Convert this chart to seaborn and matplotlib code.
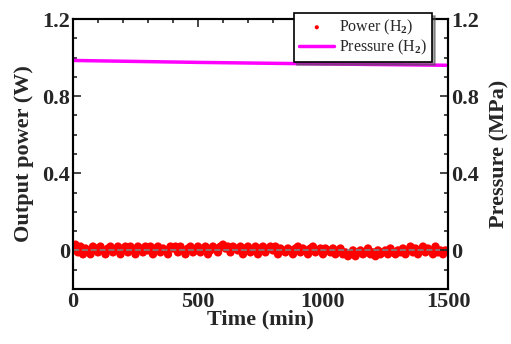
import numpy as np
import pandas as pd
import matplotlib
matplotlib.use("Agg")
import matplotlib.pyplot as plt
import seaborn as sns
from matplotlib.ticker import MultipleLocator

sns.set_style("white")
plt.rcParams['font.family'] = ['Liberation Serif', 'DejaVu Serif']
plt.rcParams['font.weight'] = 'bold'
plt.rcParams['mathtext.fontset'] = 'custom'
plt.rcParams['mathtext.rm'] = 'Liberation Serif'

time_power = list(range(0, 1500, 10))
power = [
    0.00, 0.03, -0.01, 0.02, -0.02, 0.01, 0.00, -0.02, 0.02, 0.01,
    -0.01, 0.02, 0.00, -0.02, 0.01, 0.02, -0.01, 0.00, 0.02, -0.02,
    0.01, 0.02, -0.01, 0.02, 0.00, -0.02, 0.02, 0.01, -0.01, 0.02,
    0.00, 0.02, -0.02, 0.01, 0.02, -0.01, 0.01, 0.00, -0.02, 0.02,
    0.01, 0.02, -0.01, 0.02, 0.00, -0.02, 0.01, 0.02, -0.01, 0.00,
    0.02, -0.01, 0.01, 0.02, -0.02, 0.00, 0.02, 0.01, -0.01, 0.02,
    0.03, 0.01, 0.02, -0.01, 0.02, 0.01, 0.00, 0.02, -0.02, 0.01,
    0.02, -0.01, 0.00, 0.02, -0.02, 0.01, 0.02, -0.01, 0.01, 0.02,
    0.00, 0.02, -0.02, 0.01, 0.00, -0.01, 0.01, 0.00, -0.02, 0.01,
    0.02, -0.01, 0.01, 0.00, -0.02, 0.01, 0.02, -0.01, 0.00, 0.01,
    -0.02, 0.01, 0.00, -0.01, 0.01, -0.02, 0.00, 0.01, -0.02, -0.01,
    -0.03, -0.02, 0.00, -0.03, -0.01, 0.00, -0.02, -0.01, 0.01, -0.02,
    -0.01, -0.03, 0.00, -0.02, -0.01, 0.00, -0.02, 0.01, -0.01, -0.02,
    0.00, -0.01, 0.01, -0.02, 0.00, 0.02, -0.01, 0.01, -0.02, 0.00,
    0.02, -0.01, 0.01, 0.00, -0.02, 0.02, -0.01, 0.00, -0.02, 0.00,
]
time_pressure = [0, 500, 1000, 1500]
pressure = [0.985, 0.975, 0.967, 0.960]

df_p = pd.DataFrame({"t": time_power, "p": power})
df_q = pd.DataFrame({"t": time_pressure, "q": pressure})

fig = plt.figure(figsize=(5.11, 3.44), dpi=100)
ax = fig.add_axes([73/511, 1 - 289/344, (448-73)/511, (289-19)/344])
ax2 = ax.twinx()

ax.axhline(0, color='gray', lw=1.2, ls='--', zorder=4)
sns.scatterplot(data=df_p, x="t", y="p", ax=ax, color='red', s=36,
                edgecolor='none', zorder=3, label='Power (H$_2$)', legend=False)
sns.lineplot(data=df_q, x="t", y="q", ax=ax2, color='magenta', lw=2.5,
             label='Pressure (H$_2$)', legend=False)

for a in (ax, ax2):
    a.set_xlim(0, 1500)
    a.set_ylim(-0.2, 1.2)
    for s in a.spines.values():
        s.set_linewidth(1.5)
        s.set_color('black')

ax.set_yticks([0, 0.4, 0.8, 1.2])
ax.set_yticklabels(['0', '0.4', '0.8', '1.2'])
ax2.set_yticks([0, 0.4, 0.8, 1.2])
ax2.set_yticklabels(['0', '0.4', '0.8', '1.2'])
ax.set_xticks([0, 500, 1000, 1500])
ax.xaxis.set_minor_locator(MultipleLocator(100))
ax.yaxis.set_minor_locator(MultipleLocator(0.1))
ax2.yaxis.set_minor_locator(MultipleLocator(0.1))

ax.tick_params(axis='both', which='both', direction='in', top=True, labelsize=16, width=1.2, pad=2)
ax.tick_params(axis='y', which='both', right=False)
ax.tick_params(which='major', length=6)
ax.tick_params(which='minor', length=3)
ax2.tick_params(axis='y', which='both', direction='in', labelsize=16, width=1.2, pad=2)
ax2.tick_params(which='major', length=6)
ax2.tick_params(which='minor', length=3)
for lab in ax.get_xticklabels() + ax.get_yticklabels() + ax2.get_yticklabels():
    lab.set_fontweight('bold')

ax.set_xlabel('Time (min)', fontsize=16, fontweight='bold', labelpad=-2)
ax.set_ylabel('Output power (W)', fontsize=16, fontweight='bold', labelpad=6)
ax2.set_ylabel('Pressure (MPa)', fontsize=16, fontweight='bold', labelpad=8)

h1, l1 = ax.get_legend_handles_labels()
h2, l2 = ax2.get_legend_handles_labels()
leg = ax2.legend(h1 + h2, l1 + l2, loc='upper right', bbox_to_anchor=(0.957, 1.022),
                 frameon=True, fancybox=False, shadow=True, markerscale=0.5,
                 borderpad=0.3, handlelength=2.2, labelspacing=0.05, handletextpad=0.3,
                 borderaxespad=0,
                 prop={'family': 'Liberation Serif', 'size': 11.5, 'weight': 'normal'})
leg.get_frame().set_edgecolor('black')
leg.get_frame().set_linewidth(1.2)
leg.get_frame().set_alpha(1)

fig.savefig('out.png', dpi=100)
